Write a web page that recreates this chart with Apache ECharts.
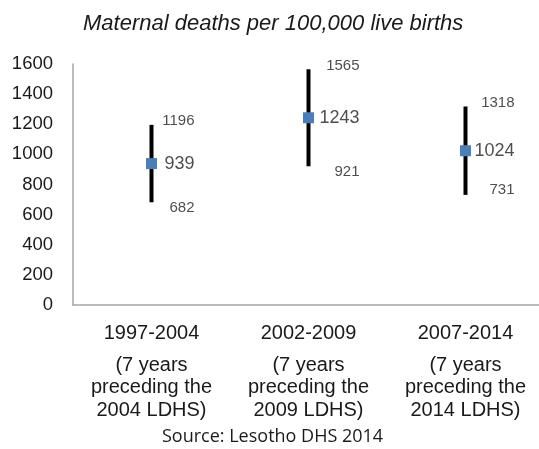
<!DOCTYPE html>
<html>
<head>
<meta charset="utf-8">
<script src="https://cdn.jsdelivr.net/npm/echarts@6/dist/echarts.min.js"></script>
<style>
  html, body { margin: 0; padding: 0; background: #fff; }
  #main { width: 539px; height: 449px; }
</style>
</head>
<body>
<div id="main"></div>
<script>
// periods on the x axis
var periods = ['1997-2004', '2002-2009', '2007-2014'];
var periodNotes = ['(7 years\npreceding the\n2004 LDHS)', '(7 years\npreceding the\n2009 LDHS)', '(7 years\npreceding the\n2014 LDHS)'];
// maternal deaths per 100,000 live births
var estimate = [939, 1243, 1024];
var lower = [682, 921, 731];
var upper = [1196, 1565, 1318];
var yTicks = [0, 200, 400, 600, 800, 1000, 1200, 1400, 1600];

// label nudges (px), as placed in the original
var labelDx = [43, 51, 49];
var lowDy = [6, 6, -5];

var chart = echarts.init(document.getElementById('main'));
var font = 'Arial, "Liberation Sans", sans-serif';

function labelSeries(vals, size, dy) {
  return {
    type: 'scatter',
    symbolSize: 0,
    silent: true,
    z: 5,
    data: vals.map(function (v, i) {
      return {
        value: [i, v],
        label: {
          show: true,
          position: 'inside',
          align: 'right',
          verticalAlign: 'middle',
          offset: [labelDx[i], typeof dy === 'number' ? dy : dy[i]],
          formatter: String(v),
          fontSize: size,
          fontFamily: font,
          color: '#222'
        }
      };
    })
  };
}

var option = {
  animation: false,
  title: [
    {
      text: 'Maternal deaths per 100,000 live births',
      left: 83,
      top: 13,
      padding: 0,
      textStyle: { fontSize: 22, fontStyle: 'italic', fontWeight: 'normal', color: '#1a1a1a', fontFamily: font }
    },
    {
      text: 'Source: Lesotho DHS 2014',
      left: 162,
      top: 428,
      padding: 0,
      textStyle: { fontSize: 18, fontWeight: 'normal', color: '#1a1a1a', fontFamily: '"Open Sans", sans-serif' }
    }
  ],
  grid: { left: 73, top: 64, width: 471, bottom: 144, containLabel: false, outerBoundsMode: 'none' },
  xAxis: {
    type: 'category',
    data: periods,
    axisLine: { lineStyle: { color: '#a6a6a6', width: 1.5 } },
    axisTick: { show: false },
    splitLine: { show: false },
    axisLabel: {
      interval: 0,
      margin: 7,
      formatter: function (v, i) {
        return '{a|' + v + '}\n' + periodNotes[i].split('\n').map(function (s) { return '{b|' + s + '}'; }).join('\n');
      },
      rich: {
        a: { fontSize: 20, lineHeight: 42, color: '#1a1a1a', fontFamily: font },
        b: { fontSize: 20, lineHeight: 22.5, color: '#1a1a1a', fontFamily: font }
      }
    }
  },
  yAxis: {
    type: 'value',
    min: 0,
    max: 1600,
    interval: 200,
    axisLine: { show: true, lineStyle: { color: '#a6a6a6', width: 1.5 } },
    axisTick: { show: false },
    splitLine: { show: false },
    axisLabel: {
      margin: 20,
      fontSize: 18.5,
      color: '#1a1a1a',
      fontFamily: font,
      formatter: function (v) { return yTicks.indexOf(v) >= 0 ? String(v) : ''; }
    }
  },
  series: [
    {
      type: 'custom',
      z: 2,
      renderItem: function (params, api) {
        var i = api.value(0);
        var p1 = api.coord([i, api.value(1)]);
        var p2 = api.coord([i, api.value(2)]);
        return {
          type: 'line',
          shape: { x1: p1[0], y1: p1[1], x2: p2[0], y2: p2[1] },
          style: { stroke: '#000', lineWidth: 4 }
        };
      },
      encode: { x: 0, y: [1, 2] },
      data: periods.map(function (p, i) { return [i, lower[i], upper[i]]; })
    },
    {
      type: 'scatter',
      z: 3,
      symbol: 'rect',
      symbolSize: 11,
      itemStyle: { color: '#4a7ebb', opacity: 1 },
      data: estimate.map(function (v, i) { return [i, v]; })
    },
    labelSeries(upper, 15, -3.5),
    labelSeries(estimate, 18, 0),
    labelSeries(lower, 15, lowDy)
  ]
};

chart.setOption(option);
</script>
</body>
</html>
